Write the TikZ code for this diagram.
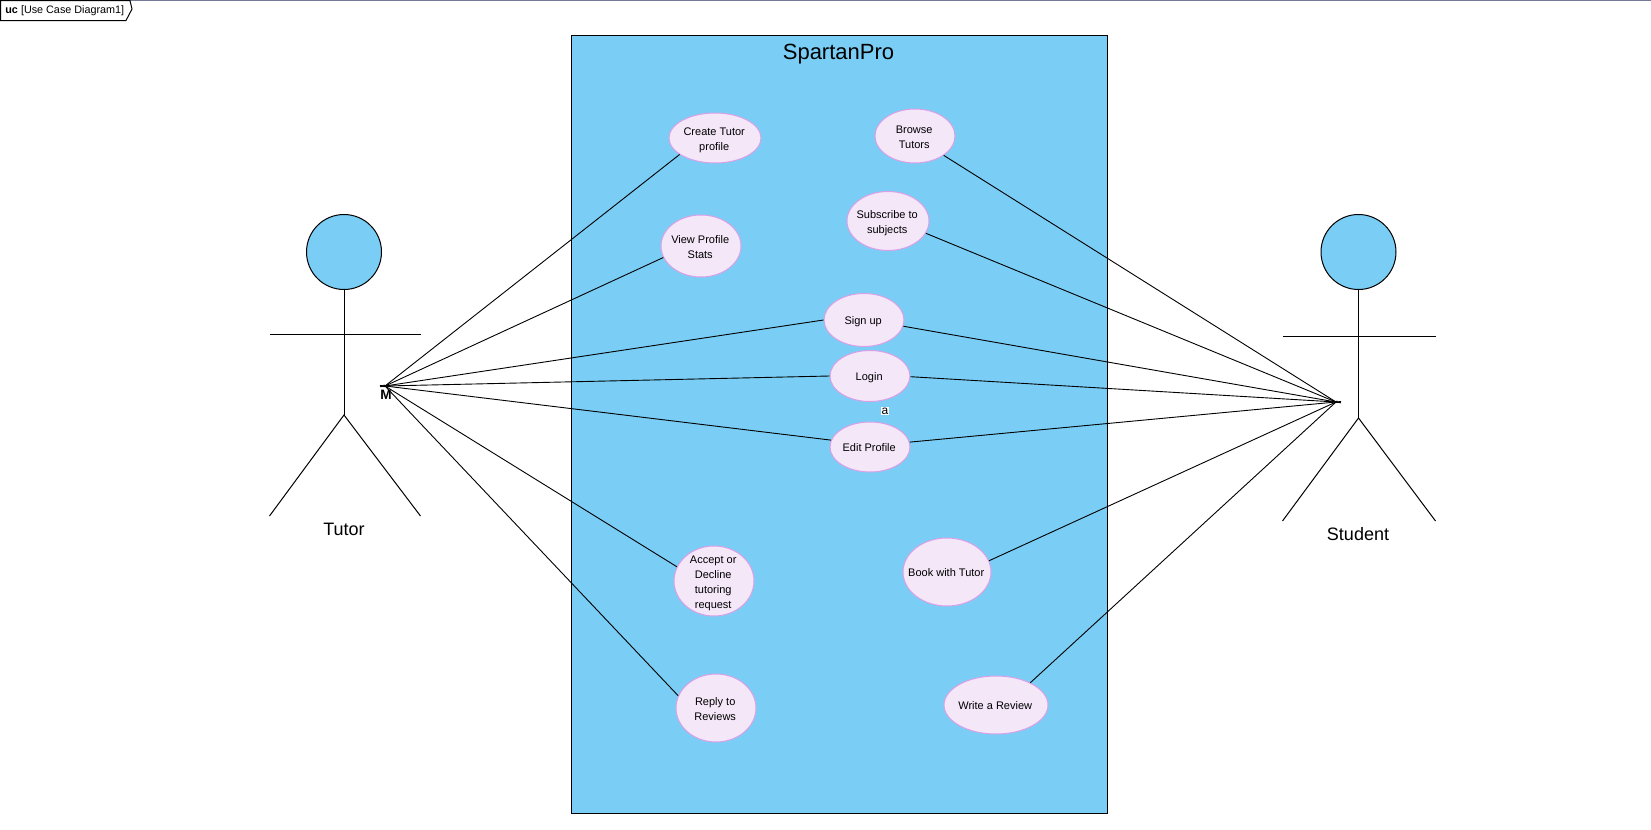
\documentclass[tikz,border=0pt]{standalone}
\usepackage{fontspec}
\setmainfont{Liberation Sans}
\usetikzlibrary{shapes.geometric}

\definecolor{systemblue}{HTML}{7ACEF6}
\definecolor{casefill}{HTML}{F3E7F8}
\definecolor{caseline}{HTML}{D9A0E6}
\definecolor{frameline}{HTML}{767A96}

% zero size box, the ellipse keeps the size that is asked for
\newcommand{\casetext}[1]{\smash{\makebox[0pt]{\hspace*{-0.8pt}\raisebox{-2.1pt}{\begin{tabular}{@{}c@{}}#1\end{tabular}}}}}

\tikzset{
  usecase/.style = {ellipse, draw=caseline, fill=casefill, line width=0.5pt, inner sep=0pt,
    font=\fontsize{5.5}{7.5}\selectfont},
  actorhead/.style = {circle, draw, fill=systemblue, line width=0.5pt, minimum size=37.5pt, inner sep=0pt},
  actorname/.style = {font=\fontsize{9}{11}\selectfont, inner sep=0pt},
  limb/.style = {line width=0.5pt},
  assoc/.style = {line width=0.45pt, shorten >=-0.8pt},
  longassoc/.style = {line width=0.45pt, shorten >=-2.5pt},
  mark label/.style = {fill=white, inner sep=0.3pt, font=\fontsize{6}{6.5}\selectfont}
}

\begin{document}
\begin{tikzpicture}[x=0.5pt, y=-0.5pt]
    \useasboundingbox (0,0) rectangle (1651,830);

    % cornice del diagramma
    \draw[frameline, line width=0.7pt] (0,0.5) -- (1651,0.5);
    \draw[line width=0.5pt, fill=white] (0.5,0.5) -- (130,0.5) -- (132,9) -- (126,20.5) -- (0.5,20.5) -- cycle;
    \node[anchor=west, inner sep=0pt, font=\fontsize{5.4}{6}\selectfont] (frametab) at (5,11) {\textbf{uc} [Use Case Diagram1]};

    % sistema
    \node[draw, fill=systemblue, line width=0.5pt, minimum width=268pt, minimum height=389pt, inner sep=0pt] (system) at (839,424.5) {};
    \node[inner sep=0pt, font=\fontsize{11}{13}\selectfont] (systemname) at (838.5,54) {SpartanPro};

    % casi d'uso
    \node[usecase, minimum width=46pt, minimum height=25pt] (createprofile) at (715,138) {\casetext{Create Tutor\\profile}};
    \node[usecase, minimum width=40pt, minimum height=27pt] (browse) at (915,136) {\casetext{Browse\\Tutors}};
    \node[usecase, minimum width=40pt, minimum height=31pt] (viewstats) at (701,246) {\casetext{View Profile\\Stats}};
    \node[usecase, minimum width=41pt, minimum height=29.5pt] (subscribe) at (888,221) {\casetext{Subscribe to\\subjects}};
    \node[usecase, minimum width=40pt, minimum height=26.5pt] (signup) at (864,320) {\casetext{Sign up}};
    \node[usecase, minimum width=40pt, minimum height=25.5pt] (login) at (870,376) {\casetext{Login}};
    \node[usecase, minimum width=40pt, minimum height=25pt] (editprofile) at (870,447) {\casetext{Edit Profile}};
    \node[usecase, minimum width=40pt, minimum height=35pt] (accept) at (714,581) {\casetext{Accept or\\Decline\\tutoring\\request}};
    \node[usecase, minimum width=44pt, minimum height=34pt] (book) at (947,572) {\casetext{Book with Tutor}};
    \node[usecase, minimum width=40pt, minimum height=34pt] (reply) at (716,708) {\casetext{Reply to\\Reviews}};
    \node[usecase, minimum width=52pt, minimum height=29pt] (review) at (996,705) {\casetext{Write a Review}};

    % attore Tutor
    \node[actorhead] (tutorhead) at (344,252) {};
    \coordinate (tutorhip) at (344,415);
    \draw[limb] (tutorhead) -- (tutorhip);
    \coordinate (tutorarml) at (269.5,334);
    \coordinate (tutorarmr) at (420.5,334);
    \draw[limb] (tutorarml) -- (tutorarmr);
    \coordinate (tutorlegl) at (269.5,516);
    \coordinate (tutorlegr) at (420.5,516);
    \draw[limb] (tutorlegl) -- (tutorhip) -- (tutorlegr);
    \node[actorname] (tutorname) at (344,529) {Tutor};

    % attore Student
    \node[actorhead] (studenthead) at (1358.5,252) {};
    \coordinate (studenthip) at (1358.5,418);
    \draw[limb] (studenthead) -- (studenthip);
    \coordinate (studentarml) at (1282.5,336);
    \coordinate (studentarmr) at (1435.5,336);
    \draw[limb] (studentarml) -- (studentarmr);
    \coordinate (studentlegl) at (1282.5,521);
    \coordinate (studentlegr) at (1435.5,521);
    \draw[limb] (studentlegl) -- (studenthip) -- (studentlegr);
    \node[actorname] (studentname) at (1358,534) {Student};

    \node[mark label, font=\bfseries\fontsize{6.8}{7}\selectfont] (tutormark) at (386,395) {M};
    \node[mark label] (loginmark) at (885,411) {a};

    % associazioni
    \coordinate (tutortip) at (385,386);
    \coordinate (studenttip) at (1336,402);
    \draw[assoc] (createprofile.205) -- (tutortip);
    \draw[assoc] (viewstats.197) -- (tutortip);
    \draw[longassoc] (signup.180) -- (tutortip);
    \draw[longassoc] (login.180) -- (tutortip);
    \draw[longassoc] (editprofile.170) -- (tutortip);
    \draw[assoc] (accept.159) -- (tutortip);
    \draw[assoc] (reply.162) -- (tutortip);
    \draw[assoc] (browse.-34) -- (studenttip);
    \draw[assoc] (subscribe.-18) -- (studenttip);
    \draw[longassoc] (signup.-9) -- (studenttip);
    \draw[longassoc] (login.-1) -- (studenttip);
    \draw[longassoc] (editprofile.7) -- (studenttip);
    \draw[assoc] (book.15) -- (studenttip);
    \draw[assoc] (review.33.5) -- (studenttip);
\end{tikzpicture}
\end{document}
